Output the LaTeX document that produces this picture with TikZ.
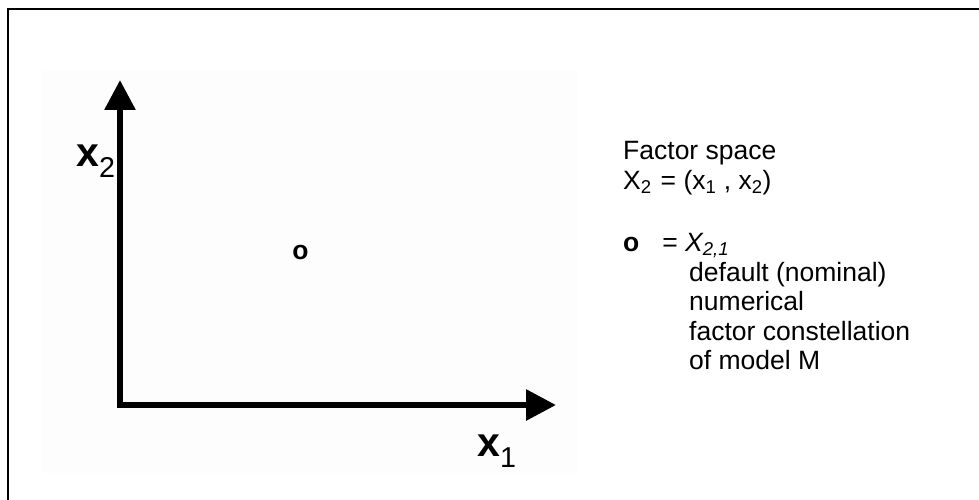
\documentclass[tikz,border=0pt]{standalone}
\usepackage{fontspec}
\setmainfont{Liberation Sans}
\setsansfont{Liberation Sans}
\usetikzlibrary{arrows.meta, positioning}

\begin{document}
\begin{tikzpicture}[
    x=1pt, y=-1pt, line join=miter,
    axis/.style={line width=6pt, {Triangle[length=30pt, width=30pt]}-{Triangle[length=30pt, width=30pt]}},
    axislabel/.style={anchor=base west, inner sep=0pt, font=\fontsize{41}{41}\selectfont\bfseries},
    legend/.style={anchor=base west, inner sep=0pt, align=left, font=\fontsize{26.5}{29.5}\selectfont},
    pointmark/.style={inner sep=0pt, font=\fontsize{26.5}{29}\selectfont\bfseries}
]
    \useasboundingbox (0,0) rectangle (979,500);
    % frame and plot background
    \draw[line width=2.5pt] (8,500) -- (8,9) -- (979,9);
    \fill[black!0.8] (42,70) rectangle (578,473);

    % axes
    \coordinate (origin) at (120,405);
    \coordinate (ytip) at (120,80);
    \coordinate (xtip) at (556,405);
    \draw[axis] (ytip) -- (origin) -- (xtip);
    \node[axislabel] (xonelabel) at (477,456) {x\textsubscript{\mdseries 1}};
    \node[axislabel] (xtwolabel) at (76,166) {x\textsubscript{\mdseries 2}};

    % nominal point
    \node[pointmark] (nominal) at (300.5,252.5) {o};

    % legend (base = last line)
    \node[legend] (title) at (623,189) {Factor space\\X\textsubscript{2}\hspace{9pt}= (x\textsubscript{1} , x\textsubscript{2})};
    \node[legend] (key) at (623,251) {\textbf{o}\hspace{23pt}= \textit{X\textsubscript{2,1}}};
    \node[legend] (desc) at (689,369.5) {default (nominal)\\numerical\\factor constellation\\of model M};
\end{tikzpicture}
\end{document}
